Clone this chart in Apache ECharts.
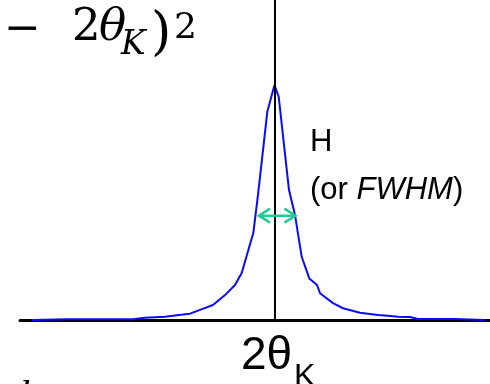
<!DOCTYPE html>
<html>
<head>
<meta charset="utf-8">
<script src="https://cdn.jsdelivr.net/npm/echarts@6/dist/echarts.min.js"></script>
<style>html,body{margin:0;padding:0;background:#fff}#c{width:490px;height:384px}</style>
</head>
<body>
<div id="c"></div>
<script>
// Peak profile: position relative to 2θK (arbitrary units) and normalised intensity
var peakX = [-4.85,-4.15,-2.83,-2.59,-2.19,-1.83,-1.69,-1.49,-1.23,-0.99,-0.79,-0.656,-0.424,-0.33,-0.144,0,
             0.084,0.29,0.41,0.544,0.696,0.85,0.91,1.17,1.37,1.71,2.07,2.27,2.47,2.71,2.87,3.61,4.21];
var peakY = [0,0.003,0.003,0.010,0.014,0.023,0.027,0.043,0.064,0.106,0.149,0.200,0.370,0.532,0.886,1.0,
             0.950,0.553,0.447,0.269,0.177,0.149,0.114,0.072,0.050,0.031,0.021,0.018,0.014,0.013,0.004,0.004,0];
// FWHM arrow: [left x, right x, height]
var fwhmArrow = [[-0.31, 0.42, 0.444]];
var centerX = 0;
var xRange = [-5.09, 4.31];
var yRange = [0, 1.3617];

var lineData = peakX.map(function(x, i){ return [x, peakY[i]]; });
var green = '#22c995';
var mathFont = '"DejaVu Serif"';

var chart = echarts.init(document.getElementById('c'));
chart.setOption({
  animation: false,
  backgroundColor: '#fff',
  grid: {left: 20, right: 0, top: 0, bottom: 64},
  xAxis: {type: 'value', min: xRange[0], max: xRange[1],
    axisLine: {show: true, onZero: false, lineStyle: {color: '#000', width: 3}},
    axisTick: {show: false}, axisLabel: {show: false}, splitLine: {show: false}},
  yAxis: {type: 'value', min: yRange[0], max: yRange[1], show: false},
  series: [
    {type: 'line', data: lineData, symbol: 'none', smooth: false,
     lineStyle: {color: '#0a0aff', width: 2}, z: 3,
     markLine: {silent: true, symbol: 'none', label: {show: false},
       lineStyle: {color: '#000', width: 2, type: 'solid'},
       data: [{xAxis: centerX}]}},
    {type: 'custom', data: fwhmArrow, z: 5,
     renderItem: function(params, api){
       var p1 = api.coord([api.value(0), api.value(2)]);
       var p2 = api.coord([api.value(1), api.value(2)]);
       var d = 11, h = 7, st = {stroke: green, lineWidth: 2.5, fill: null};
       return {type: 'group', children: [
         {type: 'line', shape: {x1: p1[0], y1: p1[1], x2: p2[0], y2: p2[1]}, style: st},
         {type: 'polyline', shape: {points: [[p1[0]+d, p1[1]-h],[p1[0], p1[1]],[p1[0]+d, p1[1]+h]]}, style: st},
         {type: 'polyline', shape: {points: [[p2[0]-d, p2[1]-h],[p2[0], p2[1]],[p2[0]-d, p2[1]+h]]}, style: st}
       ]};
     }}
  ],
  graphic: [
    {type: 'text', x: 4, y: 31, style: {text: '\u2212', font: '44px ' + mathFont, fill: '#000', textVerticalAlign: 'middle'}},
    {type: 'text', x: 72, y: 28, style: {text: '2', font: '45px ' + mathFont, fill: '#000', textVerticalAlign: 'middle'}},
    {type: 'text', x: 99, y: 28, style: {text: '\u03b8', font: 'italic 45px ' + mathFont, fill: '#000', textVerticalAlign: 'middle'}},
    {type: 'text', x: 121, y: 45.5, style: {text: 'K', font: 'italic 33px ' + mathFont, fill: '#000', textVerticalAlign: 'middle'}},
    {type: 'text', x: 151, y: 35, style: {text: ')', font: '52px ' + mathFont, fill: '#000', textVerticalAlign: 'middle'}},
    {type: 'text', x: 174, y: 29, style: {text: '2', font: '36px ' + mathFont, fill: '#000', textVerticalAlign: 'middle'}},
    {type: 'text', x: 310, y: 142, style: {text: 'H', font: '31px "Liberation Sans"', fill: '#000', textVerticalAlign: 'middle'}},
    {type: 'text', x: 310, y: 190, style: {text: '{n|(or }{i|FWHM}{n|)}', fill: '#000', textVerticalAlign: 'middle',
      rich: {n: {font: '31px "Liberation Sans"', fill: '#000'}, i: {font: 'italic 31px "Liberation Sans"', fill: '#000'}}}},
    {type: 'text', x: 241, y: 356, style: {text: '2\u03b8', font: '46px "Liberation Sans"', fill: '#000', textVerticalAlign: 'middle'}},
    {type: 'text', x: 294, y: 377, style: {text: 'K', font: '32px "Liberation Sans"', fill: '#000', textVerticalAlign: 'middle'}},
    {type: 'text', x: 19, y: 377, style: {text: 'l', font: 'italic 40px "Liberation Serif"', fill: '#000', textVerticalAlign: 'top'}}
  ]
});
</script>
</body>
</html>
